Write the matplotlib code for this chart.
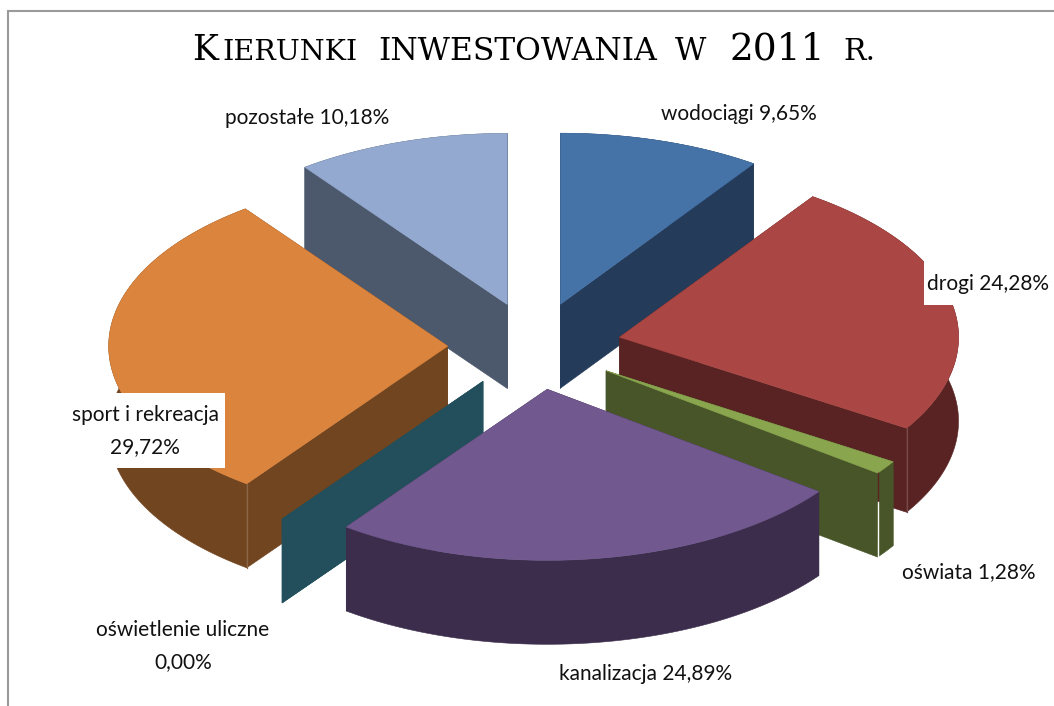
import numpy as np
import matplotlib
matplotlib.use("Agg")
import matplotlib.pyplot as plt
from matplotlib.patches import Polygon, Rectangle
from matplotlib.colors import to_rgb

# --- data ---
categories = ["wodociągi", "drogi", "oświata", "kanalizacja",
              "oświetlenie uliczne", "sport i rekreacja", "pozostałe"]
values = [9.65, 24.28, 1.28, 24.89, 0.00, 29.72, 10.18]
top_colors = ["#4572A7", "#AA4643", "#89A54E", "#71588F", "#4198AF", "#DB843D", "#93A9CF"]
side_colors = ["#243B59", "#582322", "#475529", "#3B2D4B", "#224F5B", "#71451F", "#4C586C"]
title_words = ["IERUNKI", "INWESTOWANIA", "W", "2011", "R."]

# --- projection of the pie ---
CX, CY, RX, RY, DEPTH, EXPLODE = 534.5, 346, 339, 171, 84, 0.256
LABEL_FS = 15.05

plt.rcParams["font.family"] = ["Lato", "DejaVu Sans"]
fig = plt.figure(figsize=(10.54, 7.06), dpi=100)
ax = fig.add_axes([0, 0, 1, 1])
ax.set_xlim(0, 1054)
ax.set_ylim(706, 0)
ax.axis("off")

# chart frame, cropped at right and bottom
ax.plot([8, 8, 1054], [706, 11, 11], color="#9a9a9a", lw=1.5, solid_joinstyle="miter")


def point(cx, cy, ang):
    return cx + RX * np.sin(ang), cy - RY * np.cos(ang)


def lighter(col, f=0.18):
    return tuple(c + (1 - c) * f for c in to_rgb(col))


edges = np.cumsum([0] + values) / sum(values) * 2 * np.pi
slices = []
for i in range(len(values)):
    a0, a1 = edges[i], edges[i + 1]
    mid = (a0 + a1) / 2
    cx, cy = point(CX, CY, mid)
    cx = CX + EXPLODE * (cx - CX)
    cy = CY + EXPLODE * (cy - CY)
    slices.append((cy, i, a0, a1, cx, cy))

for _, i, a0, a1, cx, cy in sorted(slices):
    top = top_colors[i]
    side = side_colors[i]
    for a in (a0, a1):
        x, y = point(cx, cy, a)
        ax.add_patch(Polygon([(cx, cy), (x, y), (x, y + DEPTH), (cx, cy + DEPTH)],
                             closed=True, fc=side, ec=side, lw=0.4))
    if a1 > a0:
        t = np.linspace(a0, a1, 160)
        xs, ys = point(cx, cy, t)
        ax.add_patch(Polygon(np.r_[np.c_[xs, ys], np.c_[xs[::-1], ys[::-1] + DEPTH]],
                             closed=True, fc=side, ec=side, lw=0.4))
        ax.add_patch(Polygon(np.r_[[[cx, cy]], np.c_[xs, ys]],
                             closed=True, fc=top, ec=top, lw=0.4))
        # seam where the radial wall meets the rim wall
        front = a1 if np.cos(a1) < 0 and np.sin(a1) > 0 else a0
        if np.cos(front) < 0 and a1 - a0 > 0.2 and categories[i] != "kanalizacja":
            x, y = point(cx, cy, front)
            ax.plot([x, x], [y, y + DEPTH], color=lighter(side), lw=0.9)
        if categories[i] == "oświata":
            x, y = point(cx, cy, a1)
            ax.plot([x, x], [y, y + 29], color=side_colors[1], lw=1.0)
            ax.plot([x, x], [y + 29, y + DEPTH], color="white", lw=1.0)

# --- labels ---
def pct(v):
    return f"{v:.2f}".replace(".", ",") + "%"


def label(i, x, y, sep=" "):
    ax.text(x, y, categories[i] + sep + pct(values[i]), ha="center", va="center",
            fontsize=LABEL_FS, color="#111111", linespacing=1.79)


ax.add_patch(Rectangle((62, 393), 163, 75, fc="white", ec="none"))
ax.add_patch(Rectangle((924, 258), 130, 47, fc="white", ec="none"))
label(0, 739, 114)
label(1, 988, 284)
label(2, 969, 572)
label(3, 646, 674)
label(4, 183, 646, "\n")
label(5, 145, 431, "\n")
label(6, 307, 118)

# --- title (small caps, one text per word) ---
tkw = dict(family="DejaVu Serif", color="#000000", va="baseline", ha="left")
ax.text(192, 60, "K", fontsize=25, **tkw)
sizes = [20.5, 22.6, 22, 27, 21.5]
for word, x, s in zip(title_words, [222, 378, 675, 729, 843], sizes):
    ax.text(x, 60, word, fontsize=s, **tkw)

fig.savefig("out.png", dpi=100)
